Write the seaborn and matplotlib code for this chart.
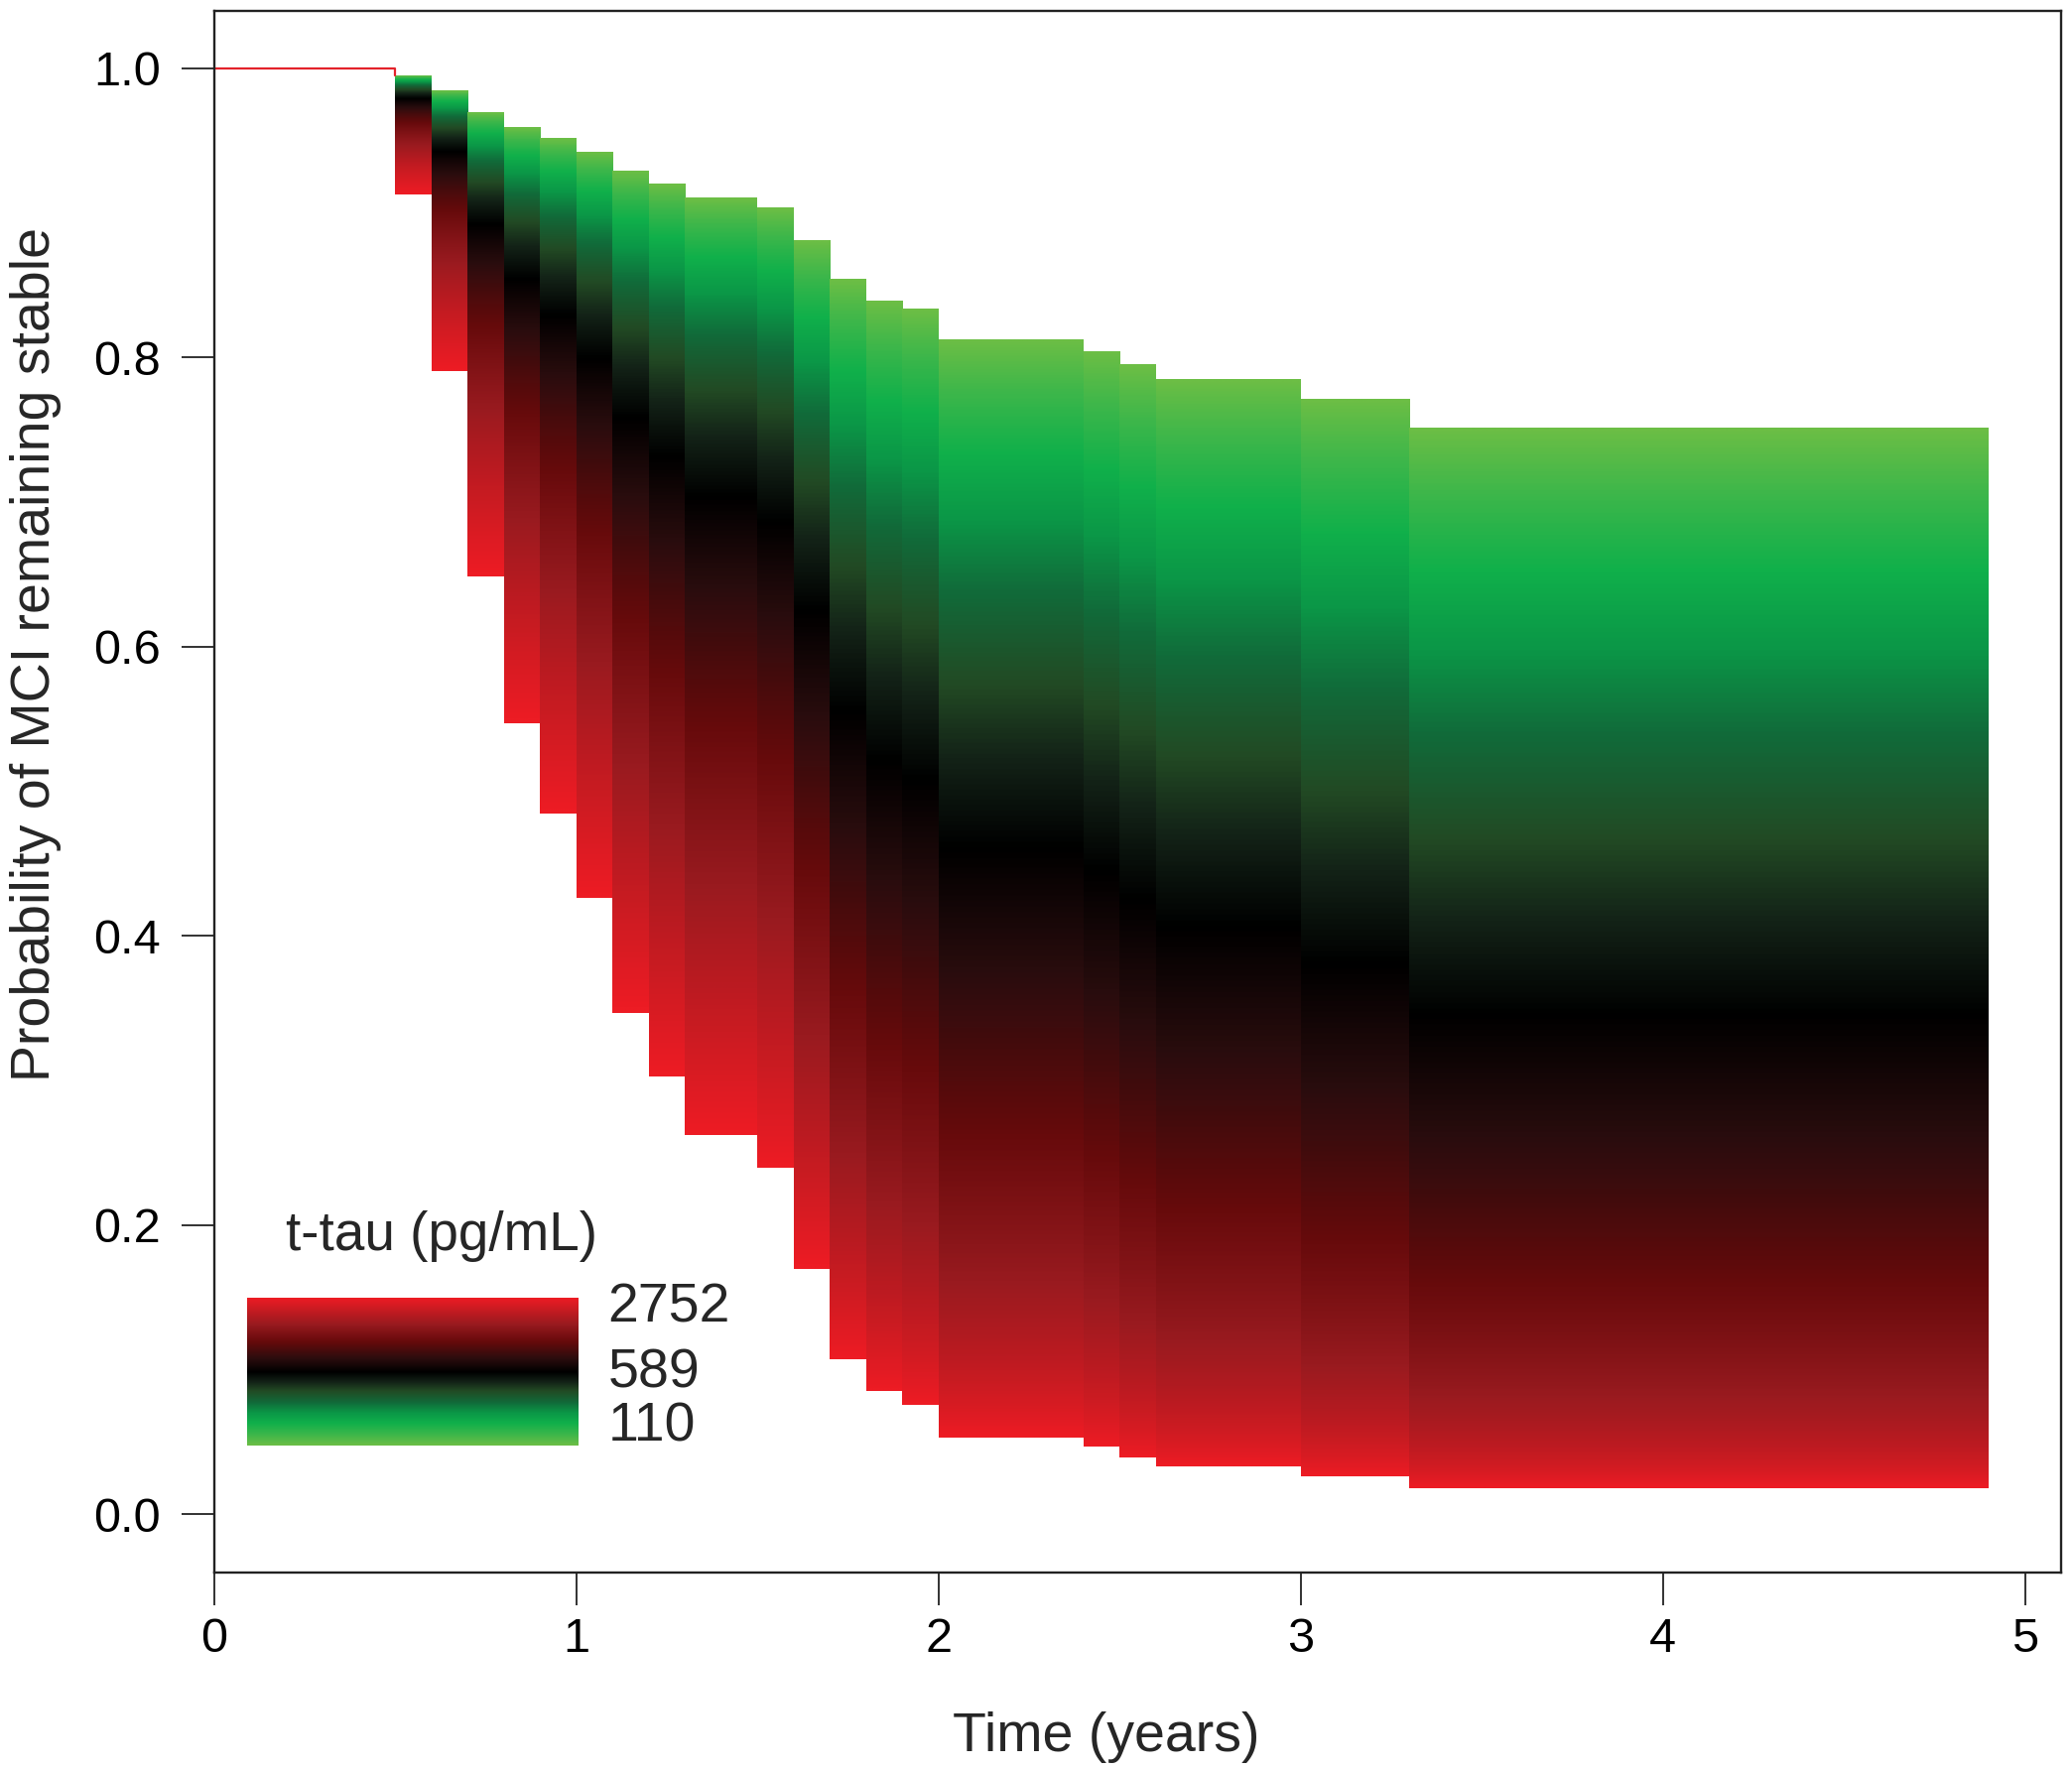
import numpy as np
import matplotlib
matplotlib.use("Agg")
import matplotlib.pyplot as plt
import seaborn as sns
from matplotlib.colors import LinearSegmentedColormap

# ---- data ----
step_times = [0.5, 0.6, 0.7, 0.8, 0.9, 1.0, 1.1, 1.2, 1.3, 1.5, 1.6,
              1.7, 1.8, 1.9, 2.0, 2.4, 2.5, 2.6, 3.0, 3.3]
end_time = 4.9
# survival for lowest t-tau (110 pg/mL, upper curve)
surv_ttau_110 = [0.995, 0.985, 0.970, 0.959, 0.952, 0.942, 0.929, 0.920, 0.910, 0.904,
                 0.881, 0.854, 0.839, 0.834, 0.812, 0.804, 0.795, 0.785, 0.771, 0.751]
# survival for highest t-tau (2752 pg/mL, lower curve)
surv_ttau_2752 = [0.913, 0.791, 0.649, 0.547, 0.485, 0.426, 0.347, 0.303, 0.262, 0.240,
                  0.170, 0.107, 0.085, 0.076, 0.053, 0.047, 0.039, 0.033, 0.026, 0.018]
start_time = 0.0
start_surv = 1.0
legend_title = "t-tau (pg/mL)"
legend_labels = ["2752", "589", "110"]
x_ticks = [0, 1, 2, 3, 4, 5]
y_ticks = [0.0, 0.2, 0.4, 0.6, 0.8, 1.0]

# ---- style ----
sns.set_style("ticks")
plt.rcParams['font.family'] = ['Liberation Sans', 'DejaVu Sans']

cmap = LinearSegmentedColormap.from_list("ttau", [
    (0.00, "#6cbe45"),
    (0.07, "#3fb74a"),
    (0.15, "#10b04b"),
    (0.22, "#0b9747"),
    (0.29, "#116b3a"),
    (0.37, "#224a24"),
    (0.43, "#132217"),
    (0.497, "#000000"),
    (0.59, "#2b0d0e"),
    (0.70, "#650a0b"),
    (0.82, "#981a1f"),
    (1.00, "#ed1c24"),
])

W, H = 2088, 1782
fig = plt.figure(figsize=(W / 100, H / 100), dpi=100)
ax_left, ax_right, ax_top, ax_bottom = 216, 2077, 10.7, 1584.6
ax = fig.add_axes([ax_left / W, 1 - ax_bottom / H,
                   (ax_right - ax_left) / W, (ax_bottom - ax_top) / H])

# initial red line (all curves coincide until first event)
sns.lineplot(x=[start_time, step_times[0], step_times[0]],
             y=[start_surv, start_surv, surv_ttau_110[0]],
             sort=False, estimator=None, color="#e3232b", linewidth=1.6, ax=ax)

# gradient blocks between the curves (proportional hazards on log t-tau)
edges = step_times + [end_time]
for i in range(len(step_times)):
    hi = surv_ttau_110[i]
    lo = surv_ttau_2752[i]
    ys = np.linspace(lo, hi, 800)
    Hg, Hr = -np.log(hi), -np.log(lo)
    Hy = -np.log(ys)
    u = (np.log(Hy) - np.log(Hg)) / (np.log(Hr) - np.log(Hg))
    rgba = cmap(np.clip(u, 0, 1))[:, None, :]
    ax.imshow(rgba, extent=[edges[i], edges[i + 1], lo, hi], origin='lower',
              aspect='auto', interpolation='bilinear', zorder=1)

ax.set_xlim(0, 5.1)
ax.set_ylim(-0.04, 1.04)
ax.set_xticks(x_ticks)
ax.set_xticklabels([str(t) for t in x_ticks])
ax.set_yticks(y_ticks)
ax.set_yticklabels([f"{t:.1f}" for t in y_ticks])
ax.tick_params(axis='both', direction='out', length=24, width=1.3,
               color="#222222", labelsize=35, labelcolor="black")
ax.tick_params(axis='y', pad=15)
ax.tick_params(axis='x', pad=9)
for s in ax.spines.values():
    s.set_color("#222222")
    s.set_linewidth(1.7)
    s.set_visible(True)

ax.set_xlabel("Time (years)", fontsize=40)
ax.set_ylabel("Probability of MCI remaining stable", fontsize=40)
ax.xaxis.set_label_coords(0.483, -0.089)
ax.yaxis.set_label_coords(-0.083, 0.588)

# legend: colour ramp + labels
lax = ax.inset_axes([0.0177, 0.0811, 0.179, 0.0946])
ramp = np.linspace(0, 1, 256)[:, None]
lax.imshow(cmap(ramp), origin='lower', aspect='auto', extent=[0, 1, 0, 1],
           interpolation='bilinear')
lax.set_axis_off()
ax.text(0.0387, 0.206, legend_title, transform=ax.transAxes, fontsize=39.5,
        ha='left', va='baseline')
for lab, yy in zip(legend_labels, [0.160, 0.118, 0.084]):
    ax.text(0.213, yy, lab, transform=ax.transAxes, fontsize=40,
            ha='left', va='baseline')

fig.savefig("out.png", dpi=100)
